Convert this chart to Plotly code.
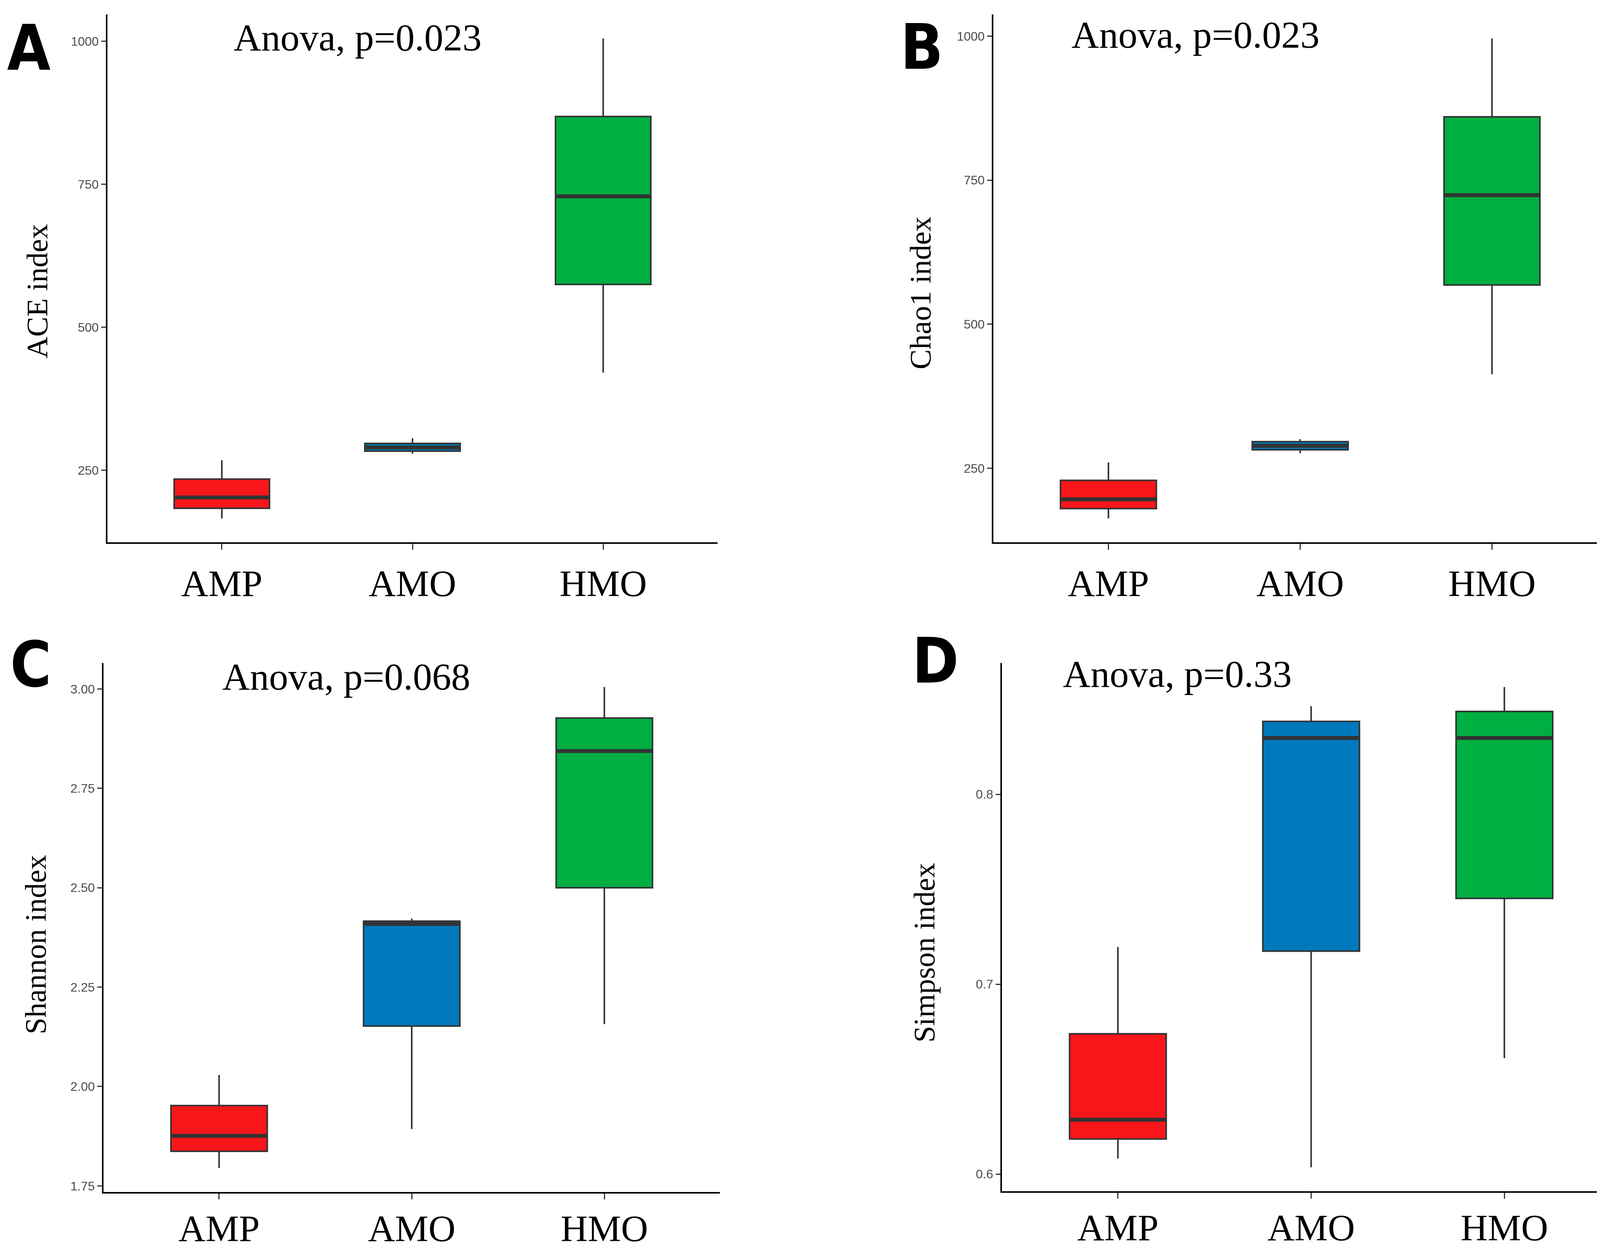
import plotly.graph_objects as go

groups = ["AMP", "AMO", "HMO"]
colors = ["#F8161B", "#0079BC", "#00AF41"]

ace_lower = [166, 279, 421]
ace_q1 = [183.6, 283.5, 575]
ace_median = [202.5, 290, 729]
ace_q3 = [234.6, 297, 868.5]
ace_upper = [267.5, 306, 1005]

chao_lower = [163, 276, 413]
chao_q1 = [180, 282, 568]
chao_median = [196, 289, 724]
chao_q3 = [229, 296, 860]
chao_upper = [260, 300.5, 996]

shannon_lower = [1.795, 1.893, 2.157]
shannon_q1 = [1.837, 2.152, 2.50]
shannon_median = [1.876, 2.409, 2.844]
shannon_q3 = [1.952, 2.416, 2.927]
shannon_upper = [2.029, 2.4225, 3.005]

simpson_lower = [0.6082, 0.6036, 0.6611]
simpson_q1 = [0.6185, 0.7174, 0.7452]
simpson_median = [0.6286, 0.8297, 0.8297]
simpson_q3 = [0.6739, 0.8384, 0.8436]
simpson_upper = [0.7196, 0.8464, 0.8565]

ace_ticks = [250, 500, 750, 1000]
chao_ticks = [250, 500, 750, 1000]
shannon_ticks = [1.75, 2.00, 2.25, 2.50, 2.75, 3.00]
simpson_ticks = [0.6, 0.7, 0.8]

panel_letters = ["A", "B", "C", "D"]
anova_texts = ["Anova, p=0.023", "Anova, p=0.023", "Anova, p=0.068", "Anova, p=0.33"]
y_titles = ["ACE index", "Chao1 index", "Shannon index", "Simpson index"]

W, H = 4170, 3202

panels = [
    dict(lower=ace_lower, q1=ace_q1, med=ace_median, q3=ace_q3, upper=ace_upper,
         ticks=ace_ticks, fmt="d", xdom=(267, 1829), ydom=(29, 1381), standoff=4,
         letter=(65, 115), anova=(588, 88), ytitle=(87, 738)),
    dict(lower=chao_lower, q1=chao_q1, med=chao_median, q3=chao_q3, upper=chao_upper,
         ticks=chao_ticks, fmt="d", xdom=(2535, 4106), ydom=(29, 1381), standoff=4,
         letter=(2352, 113), anova=(2733, 81), ytitle=(2348, 743)),
    dict(lower=shannon_lower, q1=shannon_q1, med=shannon_median, q3=shannon_q3, upper=shannon_upper,
         ticks=shannon_ticks, fmt=".2f", xdom=(257, 1835), ydom=(1690, 3045), standoff=-8,
         letter=(71, 1695), anova=(559, 1725), ytitle=(83, 2411)),
    dict(lower=simpson_lower, q1=simpson_q1, med=simpson_median, q3=simpson_q3, upper=simpson_upper,
         ticks=simpson_ticks, fmt=".1f", xdom=(2557, 4140), ydom=(1690, 3043), standoff=-8,
         letter=(2387, 1685), anova=(2711, 1718), ytitle=(2358, 2432)),
]

fig = go.Figure()
annotations = []
layout_axes = {}

SERIF = "Liberation Serif, Times New Roman, serif"
SANS = "Liberation Sans, Arial, sans-serif"
NARROW = "DejaVu Sans Condensed, Liberation Sans Narrow, Arial Narrow, sans-serif"

for k, p in enumerate(panels):
    n = k + 1
    xa = "x" if n == 1 else f"x{n}"
    ya = "y" if n == 1 else f"y{n}"
    for i, g in enumerate(groups):
        fig.add_trace(go.Box(
            x=[g], q1=[p["q1"][i]], median=[p["med"][i]], q3=[p["q3"][i]],
            lowerfence=[p["lower"][i]], upperfence=[p["upper"][i]],
            fillcolor=colors[i], line=dict(color="#333333", width=4),
            width=0.5, whiskerwidth=0, boxpoints=False, showlegend=False,
            hoverinfo="skip", xaxis=xa, yaxis=ya))
        # thick median bar
        m = p["med"][i]
        fig.add_trace(go.Box(
            x=[g], q1=[m], median=[m], q3=[m], lowerfence=[m], upperfence=[m],
            fillcolor="rgba(0,0,0,0)", line=dict(color="#333333", width=10),
            width=0.5, whiskerwidth=0, boxpoints=False, showlegend=False,
            hoverinfo="skip", xaxis=xa, yaxis=ya))

    lo = min(p["lower"]); hi = max(p["upper"])
    pad = 0.05 * (hi - lo)
    xd = (p["xdom"][0] / W, p["xdom"][1] / W)
    yd = (1 - p["ydom"][1] / H, 1 - p["ydom"][0] / H)
    xkey = "xaxis" if n == 1 else f"xaxis{n}"
    ykey = "yaxis" if n == 1 else f"yaxis{n}"
    layout_axes[xkey] = dict(
        domain=list(xd), anchor=ya, type="category", categoryorder="array",
        categoryarray=groups, range=[-0.6, 2.6], showgrid=False, zeroline=False,
        showline=True, linecolor="black", linewidth=4,
        ticks="outside", ticklen=15, tickwidth=3, tickcolor="#333333",
        tickfont=dict(family=SERIF, size=96, color="black"),
        ticklabelstandoff=p["standoff"])
    layout_axes[ykey] = dict(
        domain=list(yd), anchor=xa, range=[lo - pad, hi + pad], showgrid=False,
        zeroline=False, showline=True, linecolor="black", linewidth=4,
        ticks="outside", ticklen=12, tickwidth=3, tickcolor="#333333",
        tickmode="array", tickvals=p["ticks"],
        ticktext=[format(t, p["fmt"]) if p["fmt"] != "d" else str(int(t)) for t in p["ticks"]],
        tickfont=dict(family=SANS, size=32, color="#4D4D4D"))

    annotations.append(dict(
        text="<b>" + panel_letters[k] + "</b>", x=p["letter"][0] / W, y=1 - p["letter"][1] / H,
        xref="paper", yref="paper", xanchor="center", yanchor="middle", showarrow=False,
        font=dict(family=NARROW, size=160, color="black")))
    annotations.append(dict(
        text=anova_texts[k], x=p["anova"][0] / W, y=1 - p["anova"][1] / H,
        xref="paper", yref="paper", xanchor="left", yanchor="middle", showarrow=False,
        font=dict(family=SERIF, size=98, color="black")))
    annotations.append(dict(
        text=y_titles[k], x=p["ytitle"][0] / W, y=1 - p["ytitle"][1] / H, textangle=-90,
        xref="paper", yref="paper", xanchor="center", yanchor="middle", showarrow=False,
        font=dict(family=SERIF, size=77, color="black")))

fig.update_layout(
    width=W, height=H, margin=dict(l=0, r=0, t=0, b=0),
    paper_bgcolor="white", plot_bgcolor="white",
    boxmode="overlay", annotations=annotations, **layout_axes)

fig.write_html("out.html")
